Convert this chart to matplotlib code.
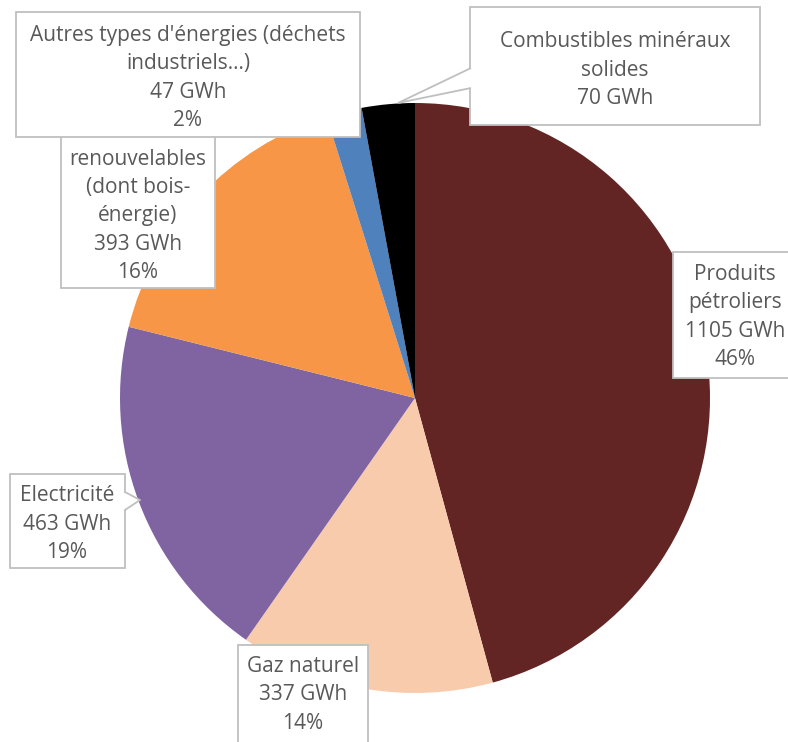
import matplotlib.pyplot as plt
from matplotlib.patches import Rectangle, Polygon

# Consommation d'énergie finale par type d'énergie (GWh)
labels = [
    "Produits\npétroliers",
    "Gaz naturel",
    "Electricité",
    "Energies\nrenouvelables\n(dont bois-\nénergie)",
    "Autres types d'énergies (déchets\nindustriels…)",
    "Combustibles minéraux\nsolides",
]
values = [1105, 337, 463, 393, 47, 70]
colors = ["#632523", "#F8CBAD", "#8064A2", "#F79646", "#4F81BD", "#000000"]

W, H = 788, 742
TEXT = "#595959"
EDGE = "#BFBFBF"

fig = plt.figure(figsize=(W / 100, H / 100), dpi=100)
ax = fig.add_axes([0, 0, 1, 1])

ax.pie(values, colors=colors, startangle=90, counterclock=False,
       center=(415, H - 398), radius=295, frame=True,
       wedgeprops=dict(linewidth=0))
ax.set_xlim(0, W)
ax.set_ylim(0, H)
ax.set_aspect("equal")
ax.axis("off")

total = sum(values)


def label_text(i, show_pct=True, skip_first=0):
    s = f"{labels[i]}\n{values[i]} GWh"
    if show_pct:
        s += f"\n{round(values[i] / total * 100)}%"
    # lines hidden under an overlapping box are dropped
    return "\n".join(s.split("\n")[skip_first:])


def box(x0, y0, x1, y1, z):
    # pixel coords from the top-left corner
    ax.add_patch(Rectangle((x0, H - y1), x1 - x0, y1 - y0, facecolor="white",
                           edgecolor=EDGE, linewidth=1.3, zorder=z))


def put(i, cx, cy, z, show_pct=True, skip_first=0):
    ax.text(cx, H - cy, label_text(i, show_pct, skip_first), ha="center",
            va="center", fontsize=15, color=TEXT, family="Open Sans",
            linespacing=1.45, zorder=z)


# Energies renouvelables (top line hidden under the "Autres" box)
box(61, 100, 215, 288, 3)
put(3, 138, 216, 3.1, skip_first=1)

# Autres types d'énergies
box(16, 12, 360, 137, 4)
put(4, 188, 78, 4.1)

# Combustibles minéraux solides, with its pointer
ax.add_patch(Polygon([(471, H - 68), (398, H - 103), (471, H - 88)],
                     closed=False, facecolor="white", edgecolor=EDGE,
                     linewidth=1.3, zorder=4.5))
box(470, 7, 760, 125, 4)
put(5, 615, 70, 4.1, show_pct=False)

# Produits pétroliers
box(673, 252, 800, 378, 4)
put(0, 735, 317, 4.1)

# Electricité, with its pointer
box(10, 474, 125, 568, 4)
ax.add_patch(Polygon([(124, H - 492), (140, H - 500), (124, H - 510)],
                     closed=True, facecolor="white", edgecolor="none",
                     zorder=4.2))
ax.plot([125, 140, 125], [H - 492, H - 500, H - 510], color=EDGE,
        linewidth=1.3, zorder=4.3)
put(2, 67, 524, 4.1)

# Gaz naturel
box(238, 645, 368, 760, 4)
put(1, 303, 695, 4.1)

fig.savefig("out.png", dpi=100)
